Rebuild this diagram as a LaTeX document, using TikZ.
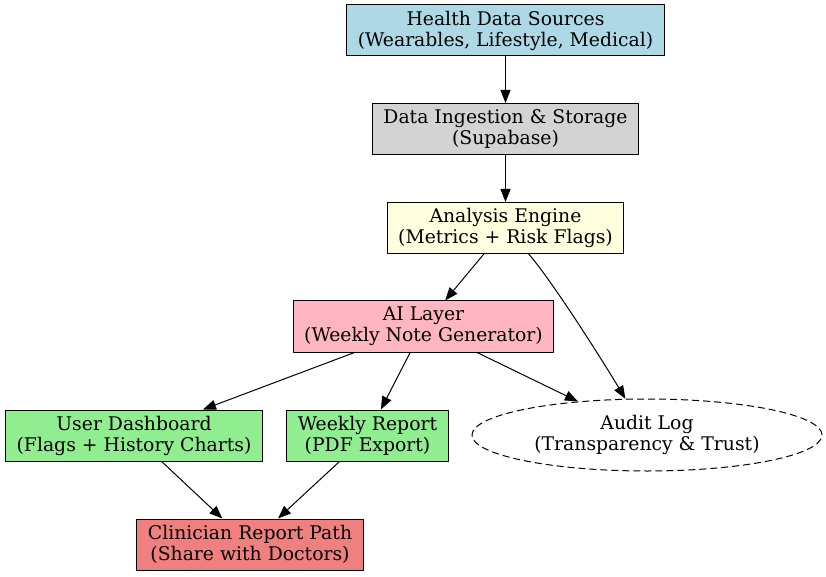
\documentclass[tikz,border=0pt]{standalone}
\usepackage{fontspec}
\setmainfont{DejaVu Serif}
\usetikzlibrary{arrows.meta,shapes.geometric}
\definecolor{srcblue}{HTML}{ADD8E6}
\definecolor{storegray}{HTML}{D3D3D3}
\definecolor{engineyellow}{HTML}{FFFFE0}
\definecolor{aipink}{HTML}{FFB6C1}
\definecolor{outgreen}{HTML}{90EE90}
\definecolor{docred}{HTML}{F08080}
\tikzset{
	box/.style={draw, rectangle, align=center, inner xsep=11pt, minimum height=51pt, line width=1pt},
	logbox/.style={draw, ellipse, align=center, dash pattern=on 7pt off 4pt, line width=1pt, minimum width=350pt, minimum height=72pt},
	flow/.style={->, line width=1pt}
}
\begin{document}
\begin{tikzpicture}[x=1pt, y=1pt, font=\fontsize{18.8}{21}\selectfont, line join=round, >={Triangle[length=13pt,width=10pt]}]
	\useasboundingbox (0,0) rectangle (826,576);
	\node[box, fill=srcblue] (sources) at (505.5,545.5) {Health Data Sources\\(Wearables, Lifestyle, Medical)};
	\node[box, fill=storegray] (ingest) at (505.5,447) {Data Ingestion \& Storage\\(Supabase)};
	\node[box, fill=engineyellow] (engine) at (505.5,348) {Analysis Engine\\(Metrics + Risk Flags)};
	\node[box, fill=aipink] (ailayer) at (423.5,249.5) {AI Layer\\(Weekly Note Generator)};
	\node[box, fill=outgreen] (dashboard) at (134,140.5) {User Dashboard\\(Flags + History Charts)};
	\node[box, fill=outgreen] (weekly) at (367.5,140.5) {Weekly Report\\(PDF Export)};
	\node[logbox] (audit) at (647,141) {Audit Log\\(Transparency \& Trust)};
	\node[box, fill=docred] (clinician) at (250,31.5) {Clinician Report Path\\(Share with Doctors)};
	\draw[flow] (sources)--(ingest);
	\draw[flow] (ingest)--(engine);
	\draw[flow] (engine)--(ailayer);
	\draw[flow] (engine) .. controls (550,298) and (601,218) .. (audit);
	\draw[flow] (ailayer)--(dashboard);
	\draw[flow] (ailayer)--(weekly);
	\draw[flow] (ailayer)--(audit);
	\draw[flow] (dashboard)--(clinician);
	\draw[flow] (weekly)--(clinician);
\end{tikzpicture}
\end{document}
